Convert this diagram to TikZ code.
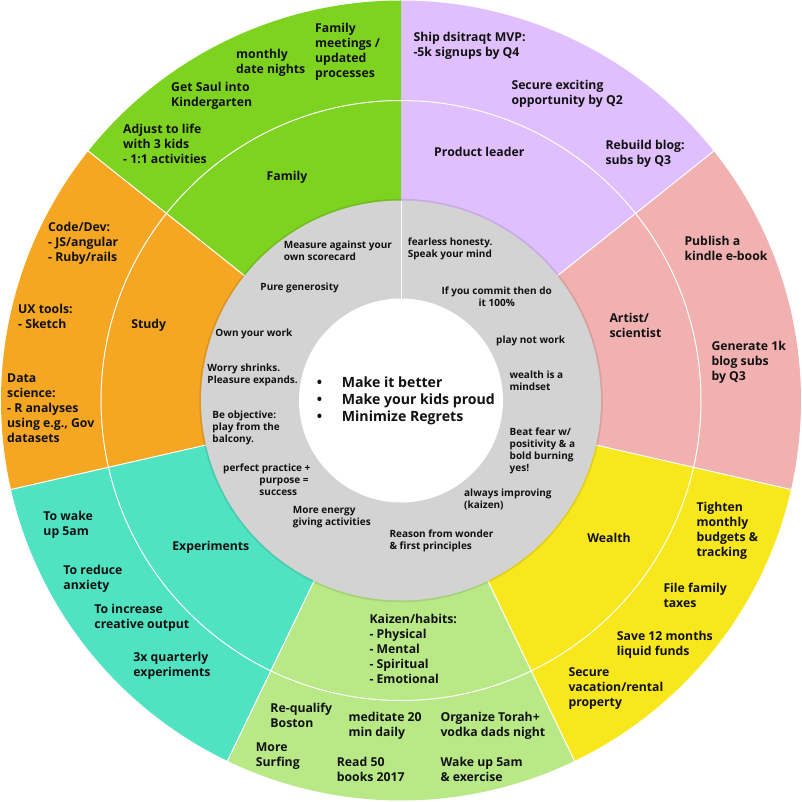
\documentclass[tikz,border=0pt]{standalone}
\usepackage{fontspec}
\setmainfont{Open Sans}
\definecolor{cPurple}{HTML}{DFBFFD}
\definecolor{cPink}{HTML}{F2B1B1}
\definecolor{cYellow}{HTML}{F8E71C}
\definecolor{cLGreen}{HTML}{B8E986}
\definecolor{cTeal}{HTML}{50E3C2}
\definecolor{cOrange}{HTML}{F5A623}
\definecolor{cGreen}{HTML}{7ED321}
\definecolor{cGrey}{HTML}{D3D3D3}
\definecolor{cText}{HTML}{111111}
\newcommand\slice[3]{\fill[#1] (0,0) -- (#2:400) arc[start angle=#2, end angle=#3, radius=400] -- cycle;}
\newcommand\tl[5]{\node[#1, anchor=base west] (#2) at (#3,#4) {\begin{tabular}[t]{@{}l@{}}#5\end{tabular}};}
\newcommand\tc[5]{\node[#1, anchor=base] (#2) at (#3,#4) {\begin{tabular}[t]{@{}c@{}}#5\end{tabular}};}
\begin{document}
\begin{tikzpicture}[x=1pt,y=1pt,
  sep/.style={white, line width=1pt},
  ring/.style={inner sep=0, text=cText, font=\bfseries\fontsize{12.25}{15}\selectfont},
  greyt/.style={inner sep=0, text=cText, font=\bfseries\fontsize{10}{12}\selectfont},
  core/.style={inner sep=0, text=cText, font=\bfseries\fontsize{14.1}{17}\selectfont}]
\useasboundingbox (-401,-400.5) rectangle (401,400.5);
\fill[white] (-401,-400.5) rectangle (401,400.5);
% sectors
\slice{cPurple}{90}{38.5714}
\slice{cPink}{38.5714}{-12.8571}
\slice{cYellow}{-12.8571}{-64.2857}
\slice{cLGreen}{-64.2857}{-115.7143}
\slice{cTeal}{-115.7143}{-167.1429}
\slice{cOrange}{-167.1429}{-218.5714}
\slice{cGreen}{-218.5714}{-270}
% separators
\foreach \a in {38.5714,-12.8571,-64.2857,-115.7143,-167.1429,141.4286}
  \draw[sep] (\a:200) -- (\a:400);
\draw[sep] (0,0) circle[radius=300];
% grey ring and centre
\draw[black, opacity=0.1, line width=2.5pt] (0,0) circle[radius=200.5];
\fill[cGrey] (0,0) circle[radius=200];
\fill[white] (0,0) circle[radius=102];
\draw[white, line width=0.8pt] (90:102) -- (90:200);
\begin{scope}[shift={(-401,400.5)}, yscale=-1]
% Family
\tl{ring}{fam1}{315}{32.3}{Family\\meetings /\\updated\\processes}
\tl{ring}{fam2}{236}{58.9}{monthly\\date nights}
\tl{ring}{fam3}{171}{91.9}{Get Saul into\\Kindergarten}
\tl{ring}{fam4}{123}{133.9}{Adjust to life\\with 3 kids\\- 1:1 activities}
\tc{ring}{famL}{287}{180.3}{Family}
% Study
\tl{ring}{st1}{48}{231.3}{Code/Dev:\\- JS/angular\\- Ruby/rails}
\tl{ring}{st2}{18}{313.9}{UX tools:\\- Sketch}
\tl{ring}{st3}{7}{382.3}{Data\\science:\\- R analyses\\using e.g., Gov\\datasets}
\tc{ring}{stL}{148.7}{328.9}{Study}
% Product leader
\tl{ring}{pl1}{413.3}{41.3}{Ship dsitraqt MVP:\\-5k signups by Q4}
\tl{ring}{pl2}{511.3}{89.3}{Secure exciting\\opportunity by Q2}
\tl{ring}{pl3}{605.3}{149.3}{Rebuild blog:\\subs by Q3}
\tc{ring}{plL}{479.3}{156.9}{Product leader}
% Artist
\tl{ring}{ar1}{684.3}{245.6}{Publish a\\kindle e-book}
\tl{ring}{ar2}{711.3}{350.3}{Generate 1k\\blog subs\\by Q3}
\tl{ring}{arL}{609.3}{322.3}{Artist/\\scientist}
% Experiments
\tl{ring}{ex1}{43.3}{520.3}{To wake\\up 5am}
\tl{ring}{ex2}{63.3}{574.3}{To reduce\\anxiety}
\tl{ring}{ex3}{94.3}{613.3}{To increase\\creative output}
\tl{ring}{ex4}{133.3}{661.6}{3x quarterly\\experiments}
\tc{ring}{exL}{210.8}{550.3}{Experiments}
% Kaizen
\tl{ring}{kzL}{369.3}{623.9}{Kaizen/habits:\\- Physical\\- Mental\\- Spiritual\\- Emotional}
\tl{ring}{kz1}{270.3}{712.3}{Re-qualify\\Boston}
\tl{ring}{kz2}{348.3}{721.3}{meditate 20\\min daily}
\tl{ring}{kz3}{255.7}{751.3}{More\\Surfing}
\tl{ring}{kz4}{336.7}{766.3}{Read 50\\books 2017}
\tl{ring}{kz5}{440.3}{721.3}{Organize Torah+\\vodka dads night}
\tl{ring}{kz6}{440.3}{766.3}{Wake up 5am\\\& exercise}
% Wealth
\tl{ring}{we1}{696.3}{511.3}{Tighten\\monthly\\budgets \&\\tracking}
\tl{ring}{we2}{663.3}{592.3}{File family\\taxes}
\tl{ring}{we3}{616.7}{640.3}{Save 12 months\\liquid funds}
\tl{ring}{we4}{568.3}{676.3}{Secure\\vacation/rental\\property}
\tc{ring}{weL}{609}{542.9}{Wealth}
% grey ring values
\tl{greyt}{g1}{283.7}{248}{Measure against your\\own scorecard}
\tl{greyt}{g2}{260.3}{290}{Pure generosity}
\tl{greyt}{g3}{215.3}{336}{Own your work}
\tl{greyt}{g4}{207.3}{371}{Worry shrinks.\\Pleasure expands.}
\tl{greyt}{g5}{212.3}{418}{Be objective:\\play from the\\balcony.}
\tl{greyt}{g6}{223}{471}{perfect practice +\\\hspace*{36.3pt}purpose =\\\hspace*{36.3pt}success}
\tl{greyt}{g7}{292.7}{513}{More energy\\giving activities}
\tl{greyt}{g8}{389.3}{537}{Reason from wonder\\\& first principles}
\tl{greyt}{g9}{464}{496}{always improving\\(kaizen)}
\tl{greyt}{g10}{509.5}{435}{Beat fear w/\\positivity \& a\\bold burning\\yes!}
\tl{greyt}{g11}{509.3}{378}{wealth is a\\mindset}
\tl{greyt}{g12}{496}{343}{play not work}
\tc{greyt}{g13}{496.7}{294.7}{If you commit then do\\it 100\%}
\tl{greyt}{g14}{407.7}{245}{fearless honesty.\\Speak your mind}
% core
\tl{core}{core}{341.7}{387.2}{\llap{\makebox[44.8pt]{•}}Make it better\\\llap{\makebox[44.8pt]{•}}Make your kids proud\\\llap{\makebox[44.8pt]{•}}Minimize Regrets}
\end{scope}
\end{tikzpicture}
\end{document}
